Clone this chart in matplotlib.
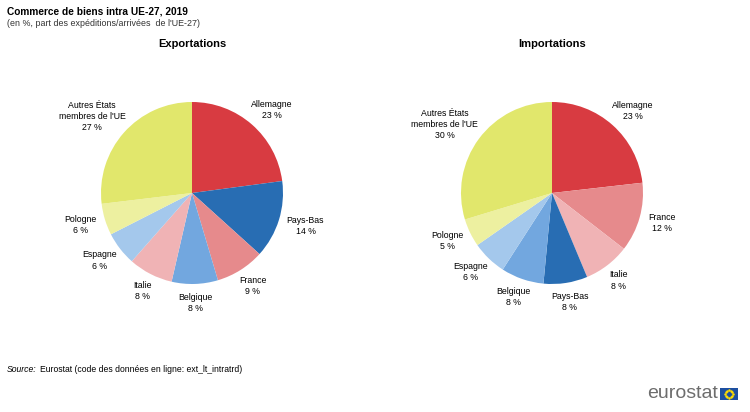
import numpy as np
import matplotlib.pyplot as plt
from matplotlib.patches import Rectangle

plt.rcParams['font.family'] = ['Liberation Sans', 'DejaVu Sans']

# Exportations
exp_pays = ["Allemagne", "Pays-Bas", "France", "Belgique", "Italie", "Espagne", "Pologne",
            "Autres États\nmembres de l'UE"]
exp_parts = [22.9, 13.8, 8.7, 8.2, 7.9, 6.0, 5.6, 26.9]
exp_couleurs = ["#d83b41", "#286db3", "#e68a8c", "#72a7df", "#f0b3b5", "#a4c8ec", "#edf0a0", "#e1e76c"]

# Importations
imp_pays = ["Allemagne", "France", "Italie", "Pays-Bas", "Belgique", "Espagne", "Pologne",
            "Autres États\nmembres de l'UE"]
imp_parts = [23.2, 12.3, 8.2, 7.8, 7.6, 6.2, 5.0, 29.7]
imp_couleurs = ["#d83b41", "#e68a8c", "#f0b3b5", "#286db3", "#72a7df", "#a4c8ec", "#edf0a0", "#e1e76c"]

W, H = 750, 412
fig = plt.figure(figsize=(7.5, 4.12), dpi=100)
rend = fig.canvas.get_renderer()

r_px = 91
lim = 1.6
taille = 2 * lim * r_px


def camembert(cx, cy, pays, parts, couleurs, titre):
    ax = fig.add_axes([(cx - taille / 2) / W, 1 - (cy + taille / 2) / H, taille / W, taille / H])
    wedges, _ = ax.pie(parts, colors=couleurs, startangle=90, counterclock=False)
    ax.set_xlim(-lim, lim)
    ax.set_ylim(-lim, lim)
    ax.set_aspect("equal")
    ax.axis("off")
    # étiquettes posées à l'extérieur, bord le plus proche à distance fixe du cercle
    for w, p, v in zip(wedges, pays, parts):
        a = np.deg2rad((w.theta1 + w.theta2) / 2)
        t = ax.text(0, 0, "%s\n%d %%" % (p, round(v)), fontsize=6.3, ha="center", va="center",
                    linespacing=1.3)
        bb = t.get_window_extent(rend)
        dx = 1.1 * np.cos(a) + bb.width / 2 / r_px * np.cos(a)
        dy = 1.1 * np.sin(a) + bb.height / 2 / r_px * np.sin(a)
        t.set_position((dx, dy))
    fig.text(cx / W, 1 - 44 / H, titre, fontsize=8, fontweight="bold", ha="center", va="center")


camembert(192, 193, exp_pays, exp_parts, exp_couleurs, "Exportations")
camembert(552, 193, imp_pays, imp_parts, imp_couleurs, "Importations")

fig.text(7 / W, 1 - 11 / H, "Commerce de biens intra UE-27, 2019", fontsize=7.3, fontweight="bold",
         ha="left", va="center")
fig.text(7 / W, 1 - 23 / H, "(en %, part des expéditions/arrivées  de l'UE-27)", fontsize=6.4,
         color="#333333", ha="left", va="center")
s = fig.text(7 / W, 1 - 369 / H, "Source:", fontsize=6.2, style="italic", ha="left", va="center")
x_fin = s.get_window_extent(rend).x1
fig.text((x_fin + 3) / W, 1 - 369 / H, "Eurostat (code des données en ligne: ext_lt_intratrd)",
         fontsize=6.2, ha="left", va="center")

# logo
fig.text(718 / W, 1 - 393 / H, "eurostat", fontsize=14, color="#6d6d6d", ha="right", va="center")
fig.patches.append(Rectangle((720 / W, 1 - 400 / H), 18 / W, 12 / H, transform=fig.transFigure,
                             facecolor="#1d4fa0", edgecolor="none"))
ang = np.linspace(0, 2 * np.pi, 12, endpoint=False)
fig.add_artist(plt.Line2D((729 + 4 * np.cos(ang)) / W, 1 - (394 + 4 * np.sin(ang)) / H,
                          transform=fig.transFigure, linestyle="none", marker="o",
                          markersize=0.8, color="#ffdd00"))

fig.savefig("out.png", dpi=100)
